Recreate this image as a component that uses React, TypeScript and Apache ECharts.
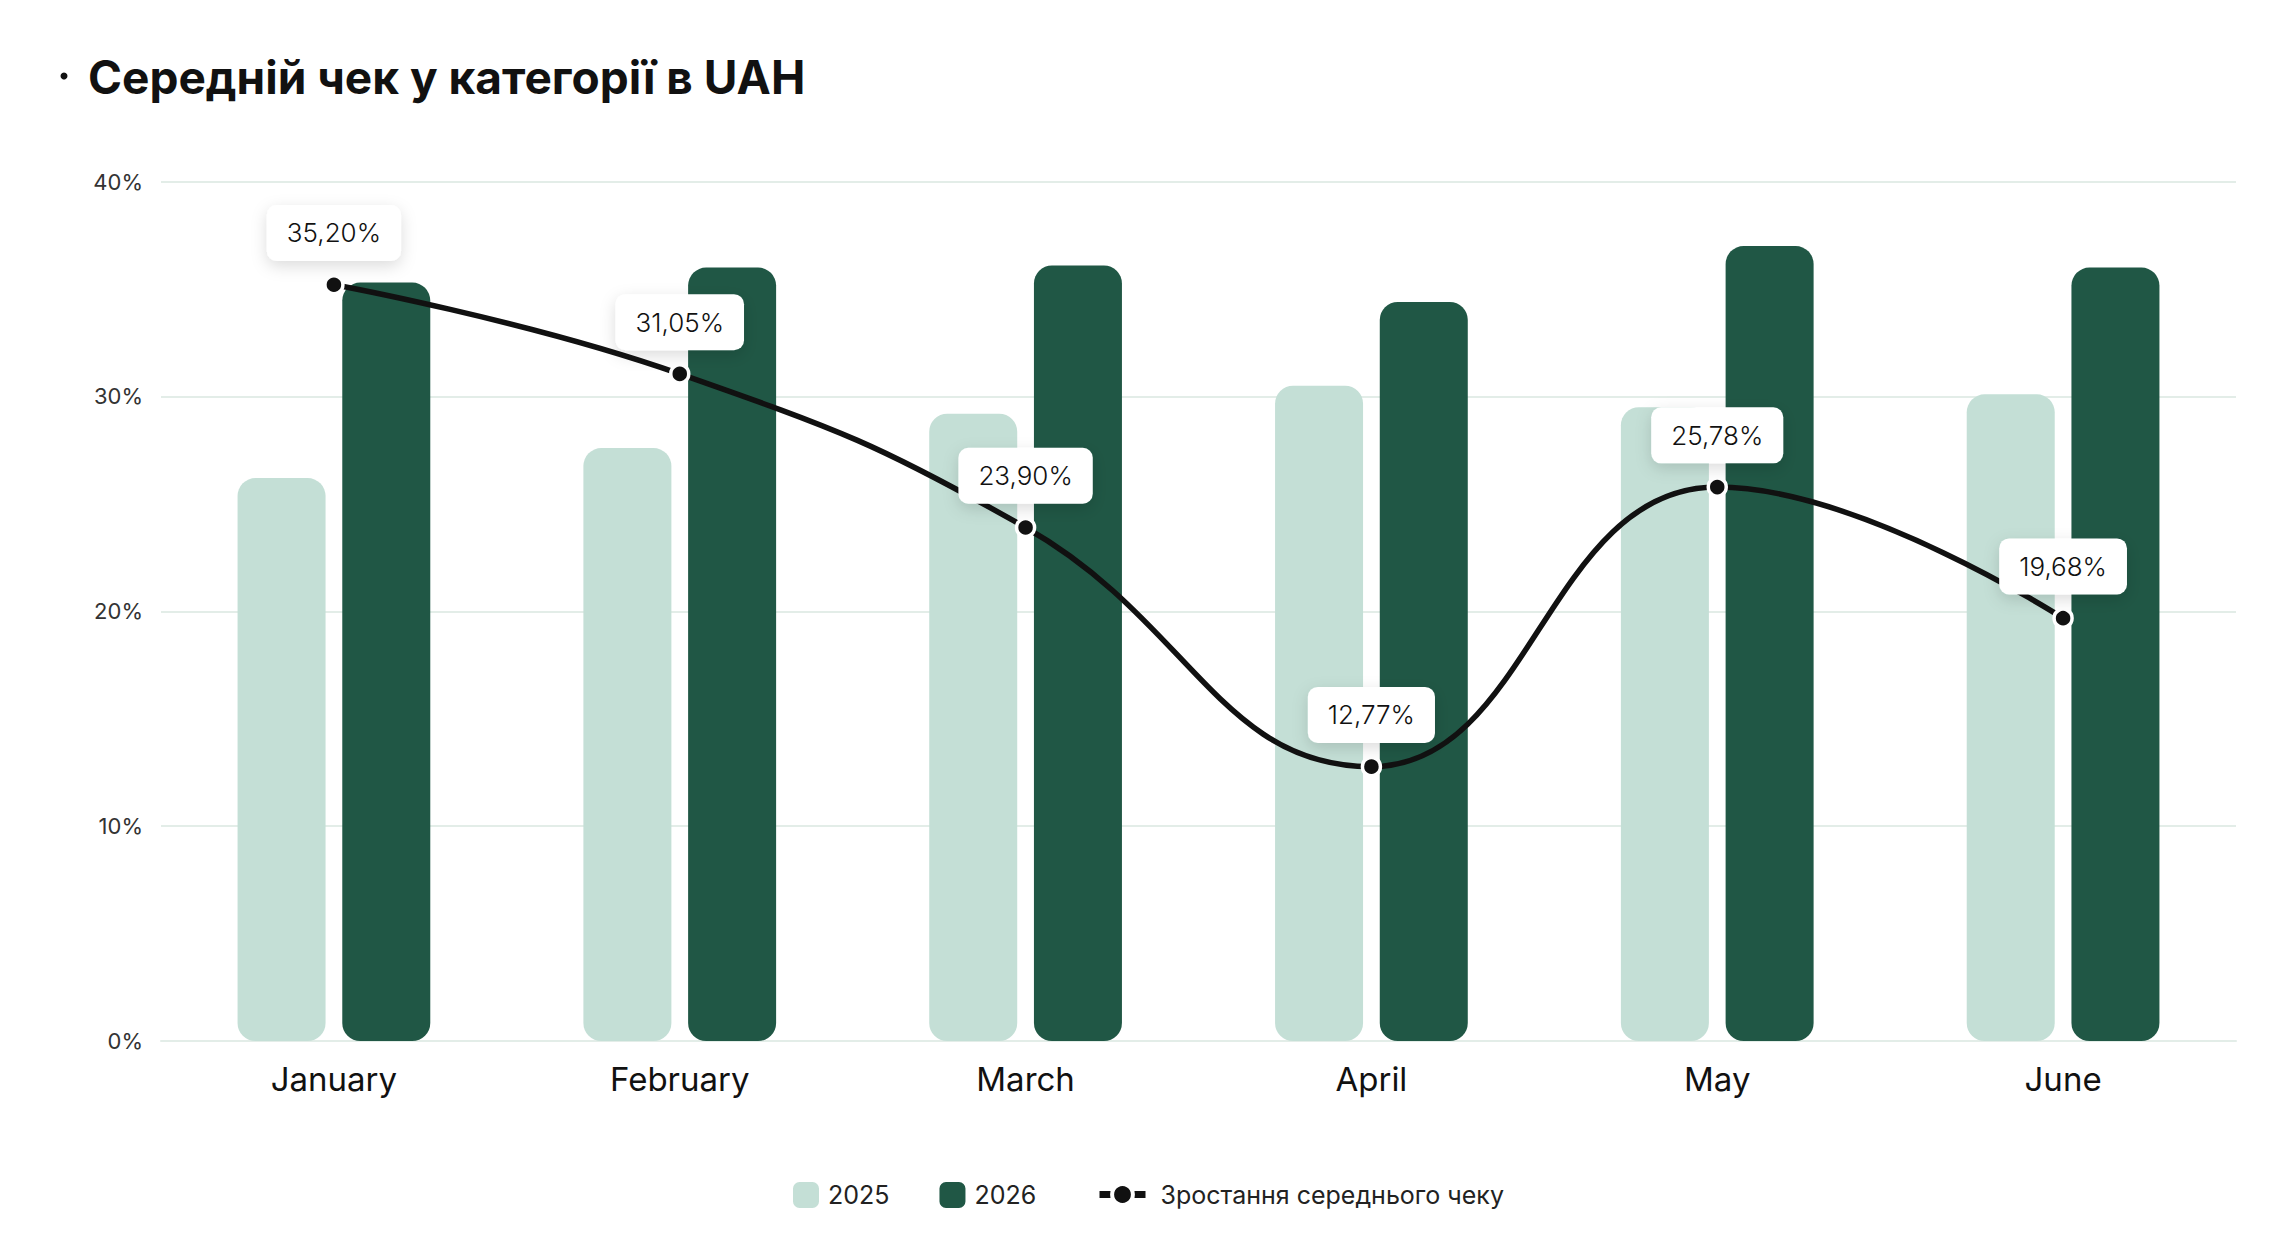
import React, { useEffect, useRef } from "react";
import * as echarts from "echarts";

const categories = ["January", "February", "March", "April", "May", "June"];
const values2025 = [26.2, 27.6, 29.2, 30.5, 29.5, 30.1];
const values2026 = [35.3, 36.0, 36.1, 34.4, 37.0, 36.0];
const growth = [35.2, 31.05, 23.9, 12.77, 25.78, 19.68];
const yTicks = [0, 10, 20, 30, 40];

const FONT = "Inter, 'Noto Sans', sans-serif";

export default function App() {
  const ref = useRef<HTMLDivElement>(null);
  useEffect(() => {
    if (!ref.current) return;
    const chart = echarts.init(ref.current, undefined, { renderer: "svg" });
    chart.setOption({
      animation: false,
      backgroundColor: "#ffffff",
      textStyle: { fontFamily: FONT },
      title: {
        text: "Середній чек у категорії в UAH",
        left: 83,
        top: 49,
        textStyle: { fontFamily: FONT, fontSize: 46, fontWeight: 700, color: "#111111" },
      },
      graphic: [
        { type: "circle", shape: { cx: 64, cy: 76, r: 3.5 }, style: { fill: "#111111" } },
      ],
      legend: [
        {
          data: ["2025", "2026"],
          left: 788,
          top: 1177,
          itemWidth: 26,
          itemHeight: 26,
          itemGap: 50,
          icon: "roundRect",
          textStyle: { fontFamily: FONT, fontSize: 25, color: "#222222", padding: [0, 0, 0, 4] },
        },
        {
          data: ["Зростання середнього чеку"],
          left: 1091,
          top: 1177,
          itemWidth: 46,
          itemHeight: 26,
          lineStyle: { width: 7 },
          itemStyle: { borderColor: "#ffffff", borderWidth: 4 },
          textStyle: { fontFamily: FONT, fontSize: 25, color: "#222222", padding: [0, 0, 0, 10] },
        },
      ],
      grid: { left: 161, right: 60, top: 181.6, bottom: 205, containLabel: false },
      xAxis: {
        type: "category",
        data: categories,
        axisLine: { show: true, lineStyle: { color: "#e3ede8", width: 2 } },
        axisTick: { show: false },
        axisLabel: { fontFamily: FONT, fontSize: 33, color: "#111111", margin: 21 },
      },
      yAxis: {
        type: "value",
        min: yTicks[0],
        max: yTicks[yTicks.length - 1],
        interval: 10,
        axisLine: { show: false },
        axisTick: { show: false },
        splitLine: { lineStyle: { color: "#e3ede8", width: 2 } },
        axisLabel: {
          fontFamily: FONT,
          fontSize: 22,
          color: "#333333",
          margin: 18,
          formatter: "{value}%",
        },
      },
      series: [
        {
          name: "2025",
          type: "bar",
          data: values2025,
          barWidth: 88,
          barGap: "19%",
          itemStyle: { color: "#c4dfd6", borderRadius: 18 },
          z: 1,
        },
        {
          name: "2026",
          type: "bar",
          data: values2026,
          barWidth: 88,
          itemStyle: { color: "#205745", borderRadius: 18 },
          z: 1,
        },
        {
          name: "Зростання середнього чеку",
          type: "line",
          data: growth,
          smooth: 0.45,
          symbol: "circle",
          symbolSize: 18,
          lineStyle: { color: "#111111", width: 5.5 },
          itemStyle: { color: "#111111", borderColor: "#ffffff", borderWidth: 3.5 },
          z: 5,
          label: {
            show: true,
            position: "top",
            distance: 13,
            formatter: (p: any) => p.value.toFixed(2).replace(".", ",") + "%",
            fontFamily: FONT,
            fontSize: 26,
            fontWeight: 300,
            lineHeight: 28,
            color: "#111111",
            backgroundColor: "#ffffff",
            borderRadius: 10,
            padding: [14, 20],
            shadowBlur: 16,
            shadowColor: "rgba(0,0,0,0.14)",
            shadowOffsetY: 5,
          },
        },
      ],
    });
    return () => chart.dispose();
  }, []);
  return (
    <div
      ref={ref}
      style={{ position: "fixed", left: 0, top: 0, width: 2296, height: 1246, background: "#fff" }}
    />
  );
}
